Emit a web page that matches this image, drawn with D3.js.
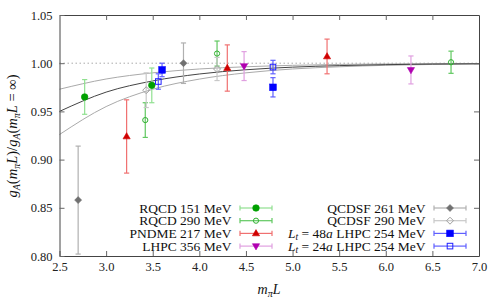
<!DOCTYPE html>
<html><head><meta charset="utf-8">
<script src="https://cdn.jsdelivr.net/npm/d3@7"></script>
<style>body{margin:0;background:#fff}svg{display:block}</style>
</head><body><svg id="c" width="500" height="300" font-family="Liberation Serif"></svg>
<script>
// ---- data ----
const xTicks = [2.5,3.0,3.5,4.0,4.5,5.0,5.5,6.0,6.5,7.0];
const yTicks = [0.80,0.85,0.90,0.95,1.00,1.05];
const curveX = [2.5,3.0,3.5,4.0,4.5,5.0,5.5,6.0,6.5,7.0];
const curveCentral = [0.950,0.970,0.9816,0.9888,0.9932,0.9959,0.9975,0.9985,0.9991,0.9994];
const curveUpper   = [0.973,0.9836,0.990,0.994,0.9963,0.9978,0.9987,0.9992,0.9995,0.9997];
const curveLower   = [0.926,0.955,0.973,0.9835,0.990,0.994,0.9963,0.9978,0.9987,0.9992];

const rqcd151_x = [2.77,3.49], rqcd151_y = [0.965,0.977], rqcd151_e = [0.018,0.018];
const rqcd290_x = [3.42,4.19,6.70], rqcd290_y = [0.941,1.010,1.001], rqcd290_e = [0.018,0.013,0.0115];
const pndme_x = [3.22,4.30,5.37], pndme_y = [0.924,0.995,1.007], pndme_e = [0.038,0.024,0.018];
const lhpc356_x = [4.48,6.27], lhpc356_y = [0.997,0.993], lhpc356_e = [0.015,0.0145];
const qcdsf261_x = [2.70,3.83], qcdsf261_y = [0.858,1.000], qcdsf261_e = [0.056,0.021];
const qcdsf290_x = [3.43,4.19], qcdsf290_y = [0.972,0.994], qcdsf290_e = [0.018,0.012];
const lhpc48_x = [3.60,4.79], lhpc48_y = [0.993,0.975], lhpc48_e = [0.007,0.010];
const lhpc24_x = [3.56,4.79], lhpc24_y = [0.981,0.996], lhpc24_e = [0.008,0.007];

const series = [
 {name:"RQCD 151 MeV", x:rqcd151_x, y:rqcd151_y, e:rqcd151_e, sym:"circle", fill:true, col:"#00a000", bar:"#90e090", col2:0, row:0},
 {name:"RQCD 290 MeV", x:rqcd290_x, y:rqcd290_y, e:rqcd290_e, sym:"circle", fill:false, col:"#30b030", bar:"#60c860", col2:0, row:1},
 {name:"PNDME 217 MeV", x:pndme_x, y:pndme_y, e:pndme_e, sym:"triangle", fill:true, col:"#d00000", bar:"#f07070", col2:0, row:2},
 {name:"LHPC 356 MeV", x:lhpc356_x, y:lhpc356_y, e:lhpc356_e, sym:"itriangle", fill:true, col:"#b000b0", bar:"#e0a0e0", col2:0, row:3},
 {name:"QCDSF 261 MeV", x:qcdsf261_x, y:qcdsf261_y, e:qcdsf261_e, sym:"diamond", fill:true, col:"#707070", bar:"#b0b0b0", col2:1, row:0},
 {name:"QCDSF 290 MeV", x:qcdsf290_x, y:qcdsf290_y, e:qcdsf290_e, sym:"diamond", fill:false, col:"#a0a0a0", bar:"#c8c8c8", col2:1, row:1},
 {name:"Lt48", x:lhpc48_x, y:lhpc48_y, e:lhpc48_e, sym:"square", fill:true, col:"#0000ff", bar:"#6060ff", col2:1, row:2},
 {name:"Lt24", x:lhpc24_x, y:lhpc24_y, e:lhpc24_e, sym:"square", fill:false, col:"#2020ff", bar:"#6060ff", col2:1, row:3}
];

const FONT = "Liberation Serif";

// ---- layout ----
const L = 59.5, R = 479, T = 15, B = 256;
const svg = d3.select("#c");
const x = d3.scaleLinear().domain([2.5,7.0]).range([L,R]);
const y = d3.scaleLinear().domain([0.80,1.05]).range([B,T]);

// dotted reference line
svg.append("line").attr("x1",L).attr("x2",R).attr("y1",y(1)).attr("y2",y(1))
  .attr("stroke","#aaa").attr("stroke-width",1).attr("stroke-dasharray","1.5,2.5");

// curves
const line = d3.line().x(d=>x(d[0])).y(d=>y(d[1])).curve(d3.curveMonotoneX);
[[curveUpper,"#aaa",1],[curveLower,"#aaa",1],[curveCentral,"#444",1]].forEach(([ys,c,w])=>{
  svg.append("path").attr("d",line(curveX.map((v,i)=>[v,ys[i]])))
    .attr("fill","none").attr("stroke",c).attr("stroke-width",w);
});

// axes
const ax = "#444";
const g = svg.append("g");
g.append("g").attr("transform",`translate(0,${B})`).call(d3.axisBottom(x).tickValues(xTicks).tickFormat(d3.format(".1f")).tickSizeInner(-5).tickSizeOuter(0).tickPadding(6));
g.append("g").attr("transform",`translate(0,${T})`).call(d3.axisTop(x).tickValues(xTicks.slice(1,-1)).tickFormat("").tickSizeInner(-5).tickSizeOuter(0));
g.append("g").attr("transform",`translate(${L},0)`).call(d3.axisLeft(y).tickValues(yTicks).tickFormat(d3.format(".2f")).tickSizeInner(-5).tickSizeOuter(0).tickPadding(7));
g.append("g").attr("transform",`translate(${R},0)`).call(d3.axisRight(y).tickValues(yTicks.slice(1,-1)).tickFormat("").tickSizeInner(-5).tickSizeOuter(0));
g.selectAll("g").attr("font-family",FONT);
g.selectAll(".domain").attr("stroke",ax);
g.selectAll(".tick line").attr("stroke","#666");
g.selectAll(".tick text").attr("font-family",FONT).attr("font-size",12.5).attr("fill","#222");

// symbols
function sym(sel, type, cx, cy, col, fill){
  let el;
  if(type==="circle"){
    el = sel.append("circle").attr("cx",cx).attr("cy",cy).attr("r",fill?3.3:2.6);
  } else if(type==="square"){
    const h = fill?3.3:2.8;
    el = sel.append("rect").attr("x",cx-h).attr("y",cy-h).attr("width",2*h).attr("height",2*h);
  } else if(type==="triangle"){
    el = sel.append("path").attr("d",`M${cx},${cy-3.8}L${cx+3.6},${cy+2.4}L${cx-3.6},${cy+2.4}Z`);
  } else if(type==="itriangle"){
    el = sel.append("path").attr("d",`M${cx},${cy+3.8}L${cx+3.6},${cy-2.4}L${cx-3.6},${cy-2.4}Z`);
  } else {
    el = sel.append("path").attr("d",`M${cx},${cy-3.5}L${cx+3.5},${cy}L${cx},${cy+3.5}L${cx-3.5},${cy}Z`);
  }
  if(fill) el.attr("fill",col).attr("stroke",col).attr("stroke-width",0.6);
  else el.attr("fill","none").attr("stroke",col).attr("stroke-width",1);
}

// data points
const pts = svg.append("g");
series.forEach(s=>{
  s.x.forEach((xv,i)=>{
    const cx = x(xv), y1 = y(s.y[i]+s.e[i]), y0 = y(s.y[i]-s.e[i]);
    pts.append("line").attr("x1",cx).attr("x2",cx).attr("y1",y1).attr("y2",y0).attr("stroke",s.bar).attr("stroke-width",1.2);
    [y1,y0].forEach(yy=>pts.append("line").attr("x1",cx-2.6).attr("x2",cx+2.6).attr("y1",yy).attr("y2",yy).attr("stroke",s.bar).attr("stroke-width",1.2));
    sym(pts, s.sym, cx, y(s.y[i]), s.col, s.fill);
  });
});

// legend
const leg = svg.append("g");
const colText = [231.5, 425.5], colL = [240, 434], colR = [272, 466];
const rowY = [208, 220.7, 233.4, 246.1];
series.forEach(s=>{
  const yy = rowY[s.row], c = s.col2;
  const t = leg.append("text").attr("x",colText[c]).attr("y",yy+4.5).attr("text-anchor","end")
    .attr("font-family",FONT).attr("font-size",13.5).attr("fill","#111");
  if(s.name==="Lt48"||s.name==="Lt24"){
    t.append("tspan").attr("font-style","italic").text("L");
    t.append("tspan").attr("font-style","italic").attr("font-size",9.5).attr("dy",2.5).text("t");
    t.append("tspan").attr("dy",-2.5).text(" = "+(s.name==="Lt48"?"48":"24"));
    t.append("tspan").attr("font-style","italic").text("a");
    t.append("tspan").text(" LHPC 254 MeV");
  } else t.text(s.name);
  leg.append("line").attr("x1",colL[c]).attr("x2",colR[c]).attr("y1",yy).attr("y2",yy).attr("stroke",s.bar).attr("stroke-width",1.2);
  [colL[c],colR[c]].forEach(xx=>leg.append("line").attr("x1",xx).attr("x2",xx).attr("y1",yy-2.6).attr("y2",yy+2.6).attr("stroke",s.bar).attr("stroke-width",1.2));
  sym(leg, s.sym, (colL[c]+colR[c])/2, yy, s.col, s.fill);
});

// axis labels
const xl = svg.append("text").attr("x",269).attr("y",294).attr("text-anchor","middle").attr("font-family",FONT).attr("font-size",14).attr("fill","#111");
xl.append("tspan").attr("font-style","italic").text("m");
xl.append("tspan").attr("font-style","italic").attr("font-size",10).attr("dy",2.5).text("π");
xl.append("tspan").attr("font-style","italic").attr("dy",-2.5).text("L");

const yl = svg.append("text").attr("transform","translate(17,136) rotate(-90)").attr("text-anchor","middle").attr("font-family",FONT).attr("font-size",14.5).attr("fill","#111");
function gA(t){
  t.append("tspan").attr("font-style","italic").text("g");
  t.append("tspan").attr("font-style","italic").attr("font-size",10).attr("dy",2.5).text("A");
  t.append("tspan").attr("dy",-2.5).text("(");
  t.append("tspan").attr("font-style","italic").text("m");
  t.append("tspan").attr("font-style","italic").attr("font-size",10).attr("dy",2.5).text("π");
  t.append("tspan").attr("font-style","italic").attr("dy",-2.5).text("L");
}
gA(yl); yl.append("tspan").text(")/");
gA(yl); yl.append("tspan").text(" = ∞)");
</script></body></html>
